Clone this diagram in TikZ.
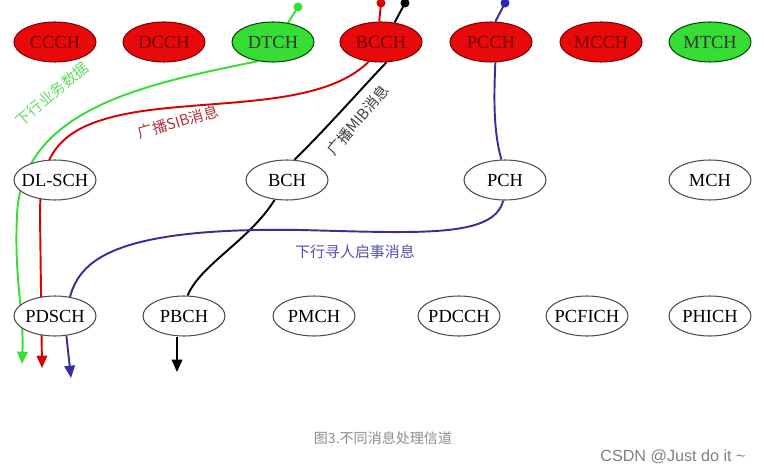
\documentclass[tikz,border=0pt]{standalone}
\usepackage{fontspec}
\setmainfont{Liberation Serif}
\newfontfamily\cjk{Noto Sans CJK SC}
\newfontfamily\capfont{Liberation Sans}
\usetikzlibrary{arrows.meta, shapes.geometric, backgrounds}

\definecolor{chred}{HTML}{E80A0A}
\definecolor{chgreen}{HTML}{35DD35}
\definecolor{lblue}{HTML}{34309A}
\definecolor{lgreen}{HTML}{5EDD5E}
\definecolor{lred}{HTML}{B0303A}

\begin{document}
\begin{tikzpicture}[x=0.02cm, y=-0.02cm, >={Triangle[length=7pt,width=6pt]},
    chan/.style={ellipse, draw=black!70, line width=0.6pt, fill=white,
        minimum width=1.64cm, minimum height=0.8cm, inner xsep=-2.5pt, inner ysep=0pt,
        font=\fontsize{10.5}{12}\selectfont},
    logred/.style={chan, fill=chred, draw=red!50!black, text=red!45!black},
    loggreen/.style={chan, fill=chgreen, draw=green!30!black, text=black!80},
    wire/.style={line width=1.1pt},
    tag/.style={font=\cjk\fontsize{8.5}{9}\selectfont}]
    \useasboundingbox (0,0) rectangle (764,473);

    % logical channels
    \node[logred] (ccch) at (55,42) {CCCH};
    \node[logred] (dcch) at (164,42) {DCCH};
    \node[loggreen] (dtch) at (273,42) {DTCH};
    \node[logred] (bcch) at (381,42) {BCCH};
    \node[logred] (pcch) at (491,42) {PCCH};
    \node[logred] (mcch) at (601,42) {MCCH};
    \node[loggreen] (mtch) at (710,42) {MTCH};

    % transport channels
    \node[chan] (dlsch) at (55,180) {DL-SCH};
    \node[chan] (bch) at (287,180) {BCH};
    \node[chan] (pch) at (505,180) {PCH};
    \node[chan] (mch) at (710,180) {MCH};

    % physical channels
    \node[chan] (pdsch) at (55,316) {PDSCH};
    \node[chan] (pbch) at (184,316) {PBCH};
    \node[chan] (pmch) at (314,316) {PMCH};
    \node[chan] (pdcch) at (459,316) {PDCCH};
    \node[chan] (pcfich) at (587,316) {PCFICH};
    \node[chan] (phich) at (710,316) {PHICH};

    % free ends
    \coordinate (gtop) at (298,7);
    \coordinate (rtop) at (381,3);
    \coordinate (ktop) at (405,3);
    \coordinate (btop) at (505,3);
    \coordinate (gend) at (22,364);
    \coordinate (rend) at (42,368);
    \coordinate (kend) at (177,372);
    \coordinate (bend) at (71,378);

    \begin{scope}[on background layer]
    % green: downlink data
    \draw[wire, chgreen] (gtop) -- (dtch.52);
    \draw[wire, chgreen, ->] (dtch.232) .. controls (140,85) and (22,110) .. (17,215)
        .. controls (14,280) and (24,310) .. (gend);
    % red: SIB
    \draw[wire, red!85!black] (rtop) -- (bcch.95);
    \draw[wire, red!85!black, ->] (bcch.238) .. controls (325,105) and (230,100) .. (150,110)
        .. controls (60,122) and (40,150) .. (40,215) -- (rend);
    % black: MIB
    \draw[wire, black] (ktop) -- (bcch.55);
    \draw[wire, black] (bcch.285) .. controls (360,90) and (325,130) .. (bch.70);
    \draw[wire, black] (bch.238) .. controls (250,240) and (200,265) .. (pbch.80);
    \draw[wire, black, ->] (kend |- pbch.south) -- (kend);
    % blue: paging
    \draw[wire, lblue] (btop) -- (pcch.78);
    \draw[wire, lblue] (pcch.282) .. controls (494,95) and (493,130) .. (pch.100);
    \draw[wire, lblue] (pch.265) .. controls (494,238) and (420,233) .. (300,230)
        .. controls (110,227) and (80,262) .. (pdsch.52);
    \draw[wire, lblue, ->] (pdsch.300) -- (bend);
    \end{scope}

    % top ends
    \fill[chgreen] (gtop) circle (4.5);
    \fill[red!85!black] (rtop) circle (4.5);
    \fill[black] (ktop) circle (4.5);
    \fill[lblue!80!blue] (btop) circle (4.5);

    % labels
    \node[tag, text=lgreen, rotate=40] (tdata) at (52,94) {下行业务数据};
    \node[tag, text=lred, rotate=16] (tsib) at (178,122) {广播SIB消息};
    \node[tag, text=black!75, rotate=50] (tmib) at (358,120) {广播MIB消息};
    \node[tag, text=lblue!85] (tpage) at (355,252) {下行寻人启事消息};

    % caption
    \node[font=\cjk\fontsize{8}{9}\selectfont, text=black!45] (cap) at (383,438) {图3.不同消息处理信道};
    \node[font=\capfont\fontsize{9.2}{10}\selectfont, text=black!50] (mark) at (673,457) {CSDN @Just do it \textasciitilde};
\end{tikzpicture}
\end{document}
